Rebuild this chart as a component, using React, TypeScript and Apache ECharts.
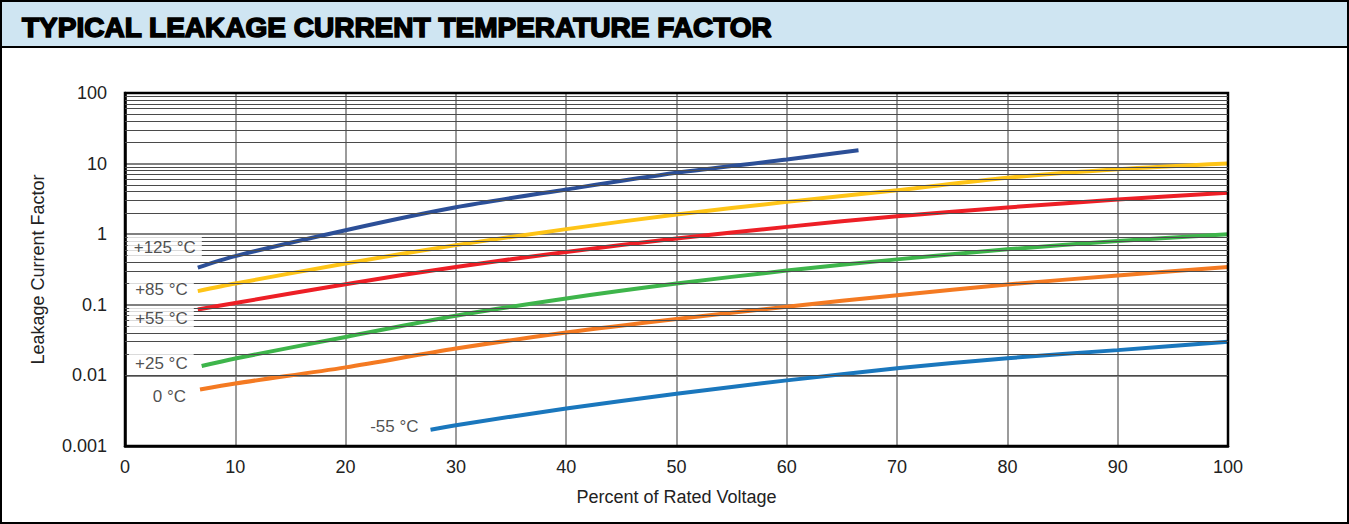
import React, { useEffect, useRef } from "react";
import * as echarts from "echarts";

// ---- data ----
const curveNames = ["+125 °C", "+85 °C", "+55 °C", "+25 °C", "0 °C", "-55 °C"];

const percent125 = [6.6, 10, 20, 30, 40, 50, 60, 66.5];
const factor125 = [0.337, 0.49, 1.14, 2.41, 4.3, 7.4, 11.4, 15.5];

const percent85 = [6.6, 10, 20, 30, 40, 50, 60, 70, 80, 90, 100];
const factor85 = [0.156, 0.2, 0.385, 0.7, 1.18, 1.9, 2.87, 4.2, 6.3, 8.3, 10.0];

const percent55 = [6.6, 10, 20, 30, 40, 50, 60, 70, 80, 90, 100];
const factor55 = [0.0857, 0.106, 0.196, 0.344, 0.56, 0.87, 1.27, 1.8, 2.39, 3.1, 3.85];

const percent25 = [6.95, 10, 20, 30, 40, 50, 60, 70, 80, 90, 100];
const factor25 = [0.0136, 0.0174, 0.035, 0.07, 0.123, 0.2, 0.305, 0.44, 0.61, 0.8, 1.0];

const percent0 = [6.8, 10, 20, 30, 40, 50, 60, 70, 80, 90, 100];
const factor0 = [0.0063, 0.0077, 0.013, 0.024, 0.0405, 0.063, 0.094, 0.137, 0.194, 0.26, 0.344];

const percentM55 = [27.7, 30, 40, 50, 60, 70, 80, 90, 100];
const factorM55 = [0.0017, 0.00197, 0.0034, 0.0055, 0.0085, 0.0126, 0.0175, 0.0228, 0.03];

const xTickLabels = ["0", "10", "20", "30", "40", "50", "60", "70", "80", "90", "100"];
const yTickLabels = ["0.001", "0.01", "0.1", "1", "10", "100"];
const decades = [0.001, 0.01, 0.1, 1, 10];
const minorMultipliers = [2, 3, 4, 5, 6, 7, 8, 9];

const titleText = "TYPICAL LEAKAGE CURRENT TEMPERATURE FACTOR";
const xAxisName = "Percent of Rated Voltage";
const yAxisName = "Leakage Current Factor";

// ---- styles ----
const colors = ["#2c4f97", "#fec417", "#ed1f26", "#3eb54b", "#f47a22", "#1a77bd"];
const labelOffsets = [
  [4, -20],
  [-4, -2],
  [-4, 9],
  [-8, -2],
  [-8, 7],
  [-6, -3],
];
const FONT = "'Liberation Sans', Arial, sans-serif";

const zip = (xs: number[], ys: number[]) => xs.map((x, i) => [x, ys[i]]);

export default function App() {
  const ref = useRef<HTMLDivElement>(null);

  useEffect(() => {
    document.body.style.margin = "0";
    document.body.style.overflow = "hidden";
    if (!ref.current) return;
    const chart = echarts.init(ref.current, undefined, { renderer: "svg" });

    const curves = [
      zip(percent125, factor125),
      zip(percent85, factor85),
      zip(percent55, factor55),
      zip(percent25, factor25),
      zip(percent0, factor0),
      zip(percentM55, factorM55),
    ];

    const minorValues: number[] = [];
    decades.forEach((d) =>
      minorMultipliers.forEach((m) => minorValues.push(parseFloat((d * m).toPrecision(3))))
    );

    const lineSeries = curves.map((data, i) => ({
      name: curveNames[i],
      type: "line",
      data,
      smooth: 0.3,
      showSymbol: false,
      symbol: "none",
      z: 3,
      lineStyle: { color: colors[i], width: 4, cap: "butt" },
    }));

    const option: any = {
      animation: false,
      backgroundColor: "#ffffff",
      textStyle: { fontFamily: FONT },
      graphic: [
        {
          type: "rect",
          shape: { x: 1, y: 1, width: 1347, height: 46 },
          style: { fill: "#cfe5f2", stroke: "#000", lineWidth: 2 },
          z: 0,
        },
        {
          type: "rect",
          shape: { x: 1, y: 1, width: 1347, height: 522 },
          style: { fill: "none", stroke: "#000", lineWidth: 2 },
          z: 0,
        },
        {
          type: "text",
          x: 22,
          y: 27,
          style: {
            text: titleText,
            fill: "#000",
            font: `bold 28px ${FONT}`,
            textVerticalAlign: "middle",
            stroke: "#000",
            lineWidth: 1.6,
          },
          z: 1,
        },
      ],
      grid: {
        left: 125,
        top: 93,
        width: 1103,
        height: 353,
        show: true,
        borderColor: "#000",
        borderWidth: 2.5,
        backgroundColor: "transparent",
        z: 4,
      },
      xAxis: {
        type: "value",
        min: 0,
        max: 100,
        interval: 10,
        name: xAxisName,
        nameLocation: "middle",
        nameGap: 42,
        nameTextStyle: { fontSize: 18, color: "#222", fontFamily: FONT },
        axisLine: { show: true, lineStyle: { color: "#000", width: 2.5 } },
        axisTick: { show: false },
        axisLabel: {
          fontSize: 18,
          color: "#222",
          fontFamily: FONT,
          margin: 12,
          formatter: (v: number) => xTickLabels[Math.round(v / 10)],
        },
        splitLine: { show: true, lineStyle: { color: "#7a7a7a", width: 1.5 } },
      },
      yAxis: {
        type: "log",
        logBase: 10,
        min: 0.001,
        max: 100,
        name: yAxisName,
        nameLocation: "middle",
        nameGap: 78,
        nameRotate: 90,
        nameTextStyle: { fontSize: 18, color: "#222", fontFamily: FONT },
        axisLine: { show: true, lineStyle: { color: "#000", width: 2.5 } },
        axisTick: { show: false },
        axisLabel: {
          fontSize: 18,
          color: "#222",
          fontFamily: FONT,
          margin: 18,
          formatter: (v: number) => yTickLabels[Math.round(Math.log10(v)) + 3],
        },
        splitLine: { show: true, lineStyle: { color: "#808080", width: 2 } },
        minorTick: { show: false },
        minorSplitLine: { show: false },
      },
      series: [
        {
          name: "grid",
          type: "line",
          data: [],
          z: 1,
          silent: true,
          markLine: {
            silent: true,
            symbol: ["none", "none"],
            label: { show: false },
            animation: false,
            lineStyle: { color: "#4a4a4a", width: 1, type: "solid" },
            data: minorValues.map((v) => ({ yAxis: v })),
          },
        },
        ...lineSeries,
        {
          name: "labels",
          type: "scatter",
          symbolSize: 0,
          z: 6,
          silent: true,
          data: curves.map((c, i) => ({
            value: c[0],
            label: {
              show: true,
              position: "left",
              distance: 0,
              offset: labelOffsets[i],
              formatter: curveNames[i],
              fontSize: 17,
              color: "#222",
              fontFamily: FONT,
              backgroundColor: "#ffffff",
              padding: [2, 6, 2, 6],
            },
          })),
        },
      ],
    };

    chart.setOption(option);
    return () => chart.dispose();
  }, []);

  return <div ref={ref} style={{ width: 1349, height: 524 }} />;
}
